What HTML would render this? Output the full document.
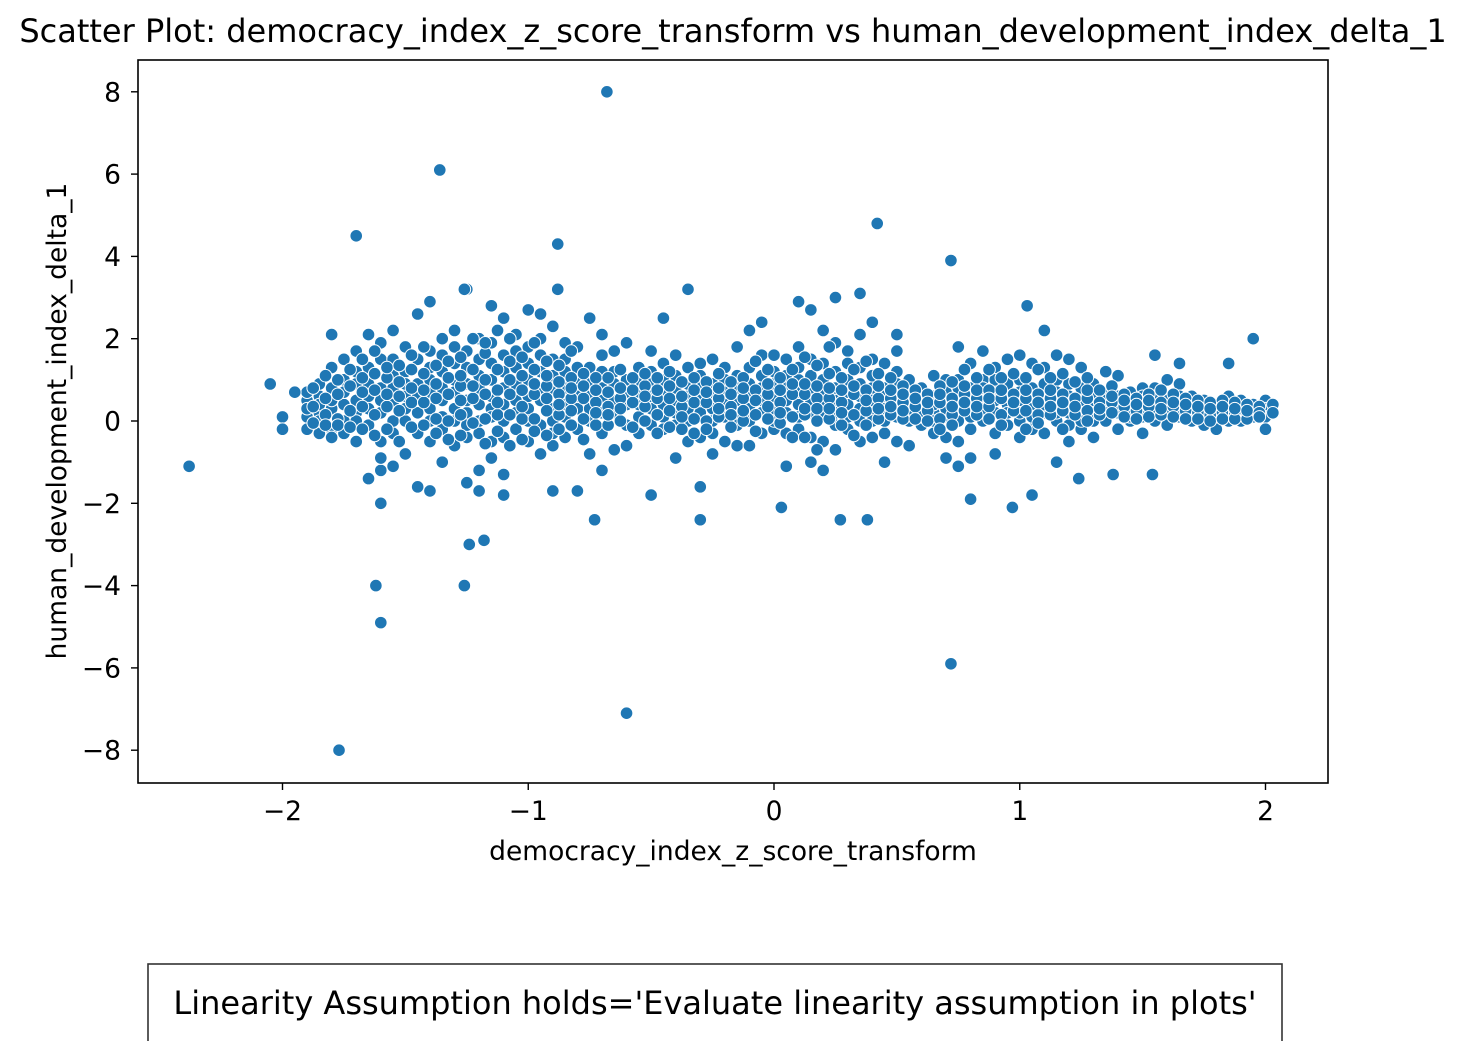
<!DOCTYPE html>
<html><head><meta charset="utf-8"><style>
body{margin:0;background:#fff;}
svg text{font-family:"DejaVu Sans","Liberation Sans",sans-serif;fill:#000;}
</style></head><body>
<svg width="1466" height="1041" viewBox="0 0 1466 1041" xmlns="http://www.w3.org/2000/svg">
<rect width="1466" height="1041" fill="#fff"/>
<text x="733" y="42" style="font-size:32px" text-anchor="middle">Scatter Plot: democracy_index_z_score_transform vs human_development_index_delta_1</text>
<g id="points"></g>
<rect x="138" y="60" width="1190" height="723" fill="none" stroke="#000" stroke-width="1.6"/>
<g id="xticks"></g>
<g id="yticks"></g>
<text x="733" y="860" style="font-size:26.5px" text-anchor="middle">democracy_index_z_score_transform</text>
<text transform="translate(66,421) rotate(-90)" style="font-size:26.5px" text-anchor="middle">human_development_index_delta_1</text>
<rect x="148" y="964" width="1134" height="90" fill="#fff" stroke="#333" stroke-width="1.6"/>
<text x="715" y="1014" style="font-size:32px" text-anchor="middle">Linearity Assumption holds='Evaluate linearity assumption in plots'</text>
</svg>
<script>
const xTicks=[-2,-1,0,1,2];
const yTicks=[-8,-6,-4,-2,0,2,4,6,8];
const colX=[-1.90,-1.85,-1.80,-1.75,-1.70,-1.65,-1.60,-1.55,-1.50,-1.45,-1.40,-1.35,-1.30,-1.25,-1.20,-1.15,-1.10,-1.05,-1.00,-0.95,-0.90,-0.85,-0.80,-0.75,-0.70,-0.65,-0.60,-0.55,-0.50,-0.45,-0.40,-0.35,-0.30,-0.25,-0.20,-0.15,-0.10,-0.05,0.00,0.05,0.10,0.15,0.20,0.25,0.30,0.35,0.40,0.45,0.50,0.55,0.60,0.65,0.70,0.75,0.80,0.85,0.90,0.95,1.00,1.05,1.10,1.15,1.20,1.25,1.30,1.35,1.40,1.45,1.50,1.55,1.60,1.65,1.70,1.75,1.80,1.85,1.90,1.95,2.00,2.03];
const colY=[[0.5,0.1,-0.2,0.3,0.7],[0.2,0.6,-0.3,0.9,0.0,0.4],[1.3,0.8,0.3,-0.2,2.1,0.5,-0.4],[1.0,0.4,0.0,1.5,-0.3,0.7],[1.7,0.9,0.2,-0.5,1.2,0.5,0.0],[2.1,1.3,0.6,-0.1,-1.4,0.9,0.3],[1.5,0.8,0.2,-0.5,-1.2,1.9,0.5,-0.9],[2.2,1.1,0.4,-0.3,0.8,-1.1,1.5,0.0],[1.8,0.6,0.0,-0.8,1.2,0.3,0.9],[1.5,0.9,0.2,-0.3,-1.6,0.6,2.6],[2.9,1.7,1.0,0.3,-0.5,-1.7,0.7,0.0,1.3],[2.0,1.2,0.5,-0.2,-1.0,0.8,0.1,1.6],[2.2,1.4,0.7,0.0,-0.6,1.0,0.3,1.8],[3.2,1.7,0.9,0.2,-0.4,-1.5,1.3,0.5,-0.1],[2.0,1.1,0.4,-0.3,-1.2,0.8,1.5,0.0,-1.7],[2.8,1.9,1.0,0.3,-0.5,-0.9,0.6,1.4,0.1],[2.5,1.6,0.8,0.0,-1.3,-1.8,0.4,1.2,-0.4],[2.1,1.3,0.5,-0.2,0.9,1.7,0.2],[2.7,1.8,1.0,0.3,-0.5,0.6,1.4,0.0],[2.6,2.0,1.2,0.5,-0.1,-0.8,0.8,1.6],[2.3,1.5,0.7,0.0,-0.6,-1.7,1.1,0.3,-0.3],[1.9,1.2,0.4,-0.4,0.8,0.1,1.5],[1.8,1.0,0.3,-0.2,-1.7,0.6,1.3],[2.5,1.3,0.6,0.0,-0.8,0.9,0.3],[2.1,1.2,0.5,-0.3,-1.2,0.8,0.2,1.6],[1.7,0.9,0.2,-0.7,0.5,1.2],[1.9,1.0,0.4,-0.1,-0.6,0.7],[1.3,0.7,0.1,-0.3,1.0,0.4],[1.7,0.9,0.3,0.6,-0.1,1.2],[2.5,1.4,0.7,0.1,-0.2,1.0,0.4],[1.1,0.5,-0.1,-0.9,0.8,0.2,1.6],[1.3,0.6,0.0,-0.5,0.9,0.3],[1.4,0.8,0.2,-0.4,1.1,0.5,-1.6],[1.5,0.9,0.3,-0.3,0.6,-0.8,0.0],[1.3,0.7,0.1,-0.5,1.0,0.4],[1.8,1.1,0.5,-0.1,0.8,0.2,-0.6],[2.2,1.3,0.6,0.0,-0.6,0.9,0.3],[2.4,1.6,0.8,0.2,-0.3,1.1,0.5],[1.6,0.9,0.3,-0.2,0.6,0.0,1.2],[1.5,0.8,0.2,-0.3,-1.1,0.5,1.1],[2.9,1.8,1.0,0.4,-0.2,0.7,0.1,1.3],[2.7,1.5,0.8,0.2,-0.4,1.1,0.5,-1.0],[2.2,1.4,0.7,0.1,-0.5,1.0,0.4,-1.2],[1.9,1.2,0.5,-0.1,-0.7,0.8,0.2],[1.7,1.0,0.4,-0.2,0.7,0.1,1.4],[2.1,1.3,0.6,0.0,-0.5,0.9,0.3],[2.4,1.5,0.8,0.2,-0.4,1.1,0.5,0.0],[1.4,0.8,0.3,-0.3,0.6,0.0,-1.0],[2.1,1.2,0.6,0.1,-0.5,0.9,0.3,1.7],[1.0,0.5,0.0,0.3,0.7,-0.6],[0.8,0.3,-0.1,0.5,0.1],[1.1,0.6,0.2,0.4,-0.3,0.0],[1.0,0.5,0.1,-0.4,0.7,0.3,-0.9],[1.8,1.0,0.5,0.0,-0.5,0.8,0.3,-1.1],[1.4,0.8,0.3,-0.2,0.6,0.1,-0.9],[1.7,1.0,0.5,0.0,0.8,0.3],[1.3,0.7,0.2,-0.3,0.5,1.0,-0.8],[1.5,0.9,0.4,-0.1,0.6,0.2],[1.6,1.0,0.5,0.0,-0.4,0.7,0.2],[1.4,0.8,0.3,-0.2,0.6,0.1],[2.2,1.3,0.7,0.2,-0.3,0.9,0.4],[1.6,1.0,0.5,0.0,0.7,0.2,-1.0],[1.5,0.9,0.4,-0.1,0.6,0.2,-0.5],[1.3,0.8,0.3,-0.2,0.5,0.0],[0.9,0.4,0.0,0.6,0.2,-0.4],[1.2,0.7,0.3,0.0,0.5],[1.1,0.6,0.2,-0.2,0.4],[0.7,0.3,0.0,0.5,0.1],[0.8,0.4,0.1,-0.3,0.6],[1.6,0.8,0.4,0.0,0.2,0.6],[1.0,0.5,0.2,-0.1,0.3],[1.4,0.9,0.4,0.1,0.6],[0.6,0.3,0.0,0.4],[0.5,0.2,-0.1,0.3],[0.4,0.1,-0.2,0.3],[0.6,0.3,0.0,0.2,1.4],[0.5,0.2,0.0,0.3],[0.4,0.2,0.1,2.0],[0.5,0.3,0.1,-0.2],[0.4,0.2]];
const colX2=[-1.875,-1.825,-1.775,-1.725,-1.675,-1.625,-1.575,-1.525,-1.475,-1.425,-1.375,-1.325,-1.275,-1.225,-1.175,-1.125,-1.075,-1.025,-0.975,-0.925,-0.875,-0.825,-0.775,-0.725,-0.675,-0.625,-0.575,-0.525,-0.475,-0.425,-0.375,-0.325,-0.275,-0.225,-0.175,-0.125,-0.075,-0.025,0.025,0.075,0.125,0.175,0.225,0.275,0.325,0.375,0.425,0.475,0.525,0.575,0.625,0.675,0.725,0.775,0.825,0.875,0.925,0.975,1.025,1.075,1.125,1.175,1.225,1.275,1.325,1.375,1.425,1.475,1.525,1.575,1.625,1.675,1.725,1.775,1.825,1.875,1.925,1.975];
const colY2=[[0.35,-0.05,0.8],[0.55,0.15,-0.1,1.1],[0.65,0.05,1.0,-0.1],[0.85,0.25,-0.15,1.25],[1.05,0.35,-0.2,0.7,1.5],[0.75,0.15,-0.35,1.15,1.7],[1.05,0.35,-0.2,0.65,1.3],[0.95,0.25,-0.5,0.6,1.35],[1.25,0.45,-0.15,0.8,1.6],[1.15,0.45,-0.1,0.75,1.8],[1.35,0.55,0.05,-0.3,0.9],[1.45,0.65,0.0,-0.45,1.05],[1.55,0.85,0.15,-0.35,0.5,1.1],[1.25,0.55,-0.05,0.85,2.0],[1.65,0.65,0.05,-0.55,1.0,1.9],[1.25,0.75,0.15,-0.25,0.45,2.2],[1.45,0.65,0.15,-0.6,1.0,2.0],[1.55,0.75,0.05,-0.45,1.1,0.35],[1.25,0.65,0.05,-0.25,0.9,1.9],[1.45,0.85,0.25,-0.35,0.55,1.1],[1.35,0.65,0.15,-0.2,0.95,0.4],[1.05,0.55,-0.1,0.8,0.25,1.7],[1.15,0.55,0.05,-0.45,0.85],[1.05,0.45,-0.1,0.75,0.2],[1.05,0.35,-0.1,0.7,0.15],[1.25,0.55,0.0,0.8,0.3],[1.05,0.45,-0.15,0.75],[0.85,0.35,0.0,0.6,1.15],[1.05,0.55,0.15,0.75,-0.3],[0.85,0.25,-0.15,0.55,1.2],[0.95,0.35,-0.2,0.6,0.1],[1.05,0.45,0.05,0.75,-0.3],[0.95,0.45,0.0,0.7,-0.2],[1.15,0.55,0.1,0.8,0.3],[0.95,0.35,-0.15,0.65,0.15],[1.05,0.55,0.0,0.8,0.25],[1.45,0.75,0.15,-0.25,0.5],[1.25,0.65,0.05,0.9,0.35],[1.05,0.45,-0.05,0.75,0.2],[1.25,0.65,0.1,0.9,-0.4],[1.55,0.65,0.15,-0.4,0.9,0.3],[1.35,0.55,0.0,0.85,0.3,-0.7],[1.15,0.55,0.05,0.8,0.3,1.8],[1.05,0.45,-0.1,0.75,0.2],[1.25,0.65,0.15,0.85,-0.35],[1.45,0.75,0.25,-0.1,0.5],[1.15,0.55,0.05,0.85,0.3],[1.05,0.55,0.15,0.75,0.35],[0.85,0.45,0.05,0.65,0.25],[0.75,0.35,0.05,0.55],[0.65,0.25,0.0,0.45],[0.85,0.45,0.05,0.65,-0.2],[0.95,0.55,0.15,0.35,-0.1],[1.25,0.65,0.25,0.45,0.85],[1.05,0.55,0.15,0.75,0.35],[1.25,0.75,0.35,0.55,0.05],[1.05,0.55,0.15,0.75,-0.1],[1.15,0.65,0.25,0.45],[1.05,0.55,0.25,0.75,-0.2],[1.25,0.65,0.15,0.45,-0.05],[1.05,0.55,0.15,0.75,0.35],[1.15,0.65,0.25,0.45,-0.2],[0.95,0.55,0.15,0.35],[1.05,0.55,0.25,0.75,0.0],[0.75,0.45,0.15,0.3],[0.85,0.45,0.2,0.6],[0.65,0.35,0.1,0.5],[0.55,0.25,0.05,0.4],[0.65,0.35,0.1,0.5],[0.75,0.45,0.15,0.3],[0.65,0.35,0.1,0.45],[0.55,0.25,0.05,0.4],[0.5,0.2,0.05,0.35],[0.45,0.15,0.0,0.3],[0.5,0.2,0.05,0.35],[0.45,0.2,0.05,0.3],[0.4,0.15,0.05,0.25],[0.35,0.2,0.1]];
const outX=[-2.38,-2.05,-2.0,-2.0,-1.95,-0.68,-1.36,-1.7,-0.88,0.42,0.72,-1.62,-1.6,-1.26,-1.24,-1.18,-1.77,-0.6,0.72,-0.73,-0.3,0.27,0.38,0.03,0.97,-1.6,0.8,1.05,-0.5,-0.35,0.35,0.25,1.03,-0.88,-1.26,1.54,1.38,1.24];
const outY=[-1.1,0.9,0.1,-0.2,0.7,8.0,6.1,4.5,4.3,4.8,3.9,-4.0,-4.9,-4.0,-3.0,-2.9,-8.0,-7.1,-5.9,-2.4,-2.4,-2.4,-2.4,-2.1,-2.1,-2.0,-1.9,-1.8,-1.8,3.2,3.1,3.0,2.8,3.2,3.2,-1.3,-1.3,-1.4];
const NS='http://www.w3.org/2000/svg';
const sx=v=>774+v*245.75;
const sy=v=>421-v*41.15;
const pts=document.getElementById('points');
function dot(x,y){
  const c=document.createElementNS(NS,'circle');
  c.setAttribute('cx',sx(x));c.setAttribute('cy',sy(y));c.setAttribute('r',6.3);
  c.setAttribute('fill','#1f77b4');c.setAttribute('stroke','#fff');c.setAttribute('stroke-width','1');
  
  
  pts.appendChild(c);
}
colX.forEach((x,i)=>colY[i].forEach(y=>dot(x,y)));
colX2.forEach((x,i)=>colY2[i].forEach(y=>dot(x,y)));
outX.forEach((x,i)=>dot(x,outY[i]));
const xg=document.getElementById('xticks');
xTicks.forEach(t=>{
  const l=document.createElementNS(NS,'line');
  l.setAttribute('x1',sx(t));l.setAttribute('x2',sx(t));l.setAttribute('y1',783);l.setAttribute('y2',790);l.setAttribute('stroke','#000');l.setAttribute('stroke-width','1.4');
  
  
  xg.appendChild(l);
  const tx=document.createElementNS(NS,'text');
  tx.setAttribute('x',sx(t));tx.setAttribute('y',820);tx.setAttribute('style','font-size:26.5px');tx.setAttribute('text-anchor','middle');
  tx.textContent=(t<0?'\u2212':'')+Math.abs(t);
  
  
  xg.appendChild(tx);
});
const yg=document.getElementById('yticks');
yTicks.forEach(t=>{
  const l=document.createElementNS(NS,'line');
  l.setAttribute('x1',131);l.setAttribute('x2',138);l.setAttribute('y1',sy(t));l.setAttribute('y2',sy(t));l.setAttribute('stroke','#000');l.setAttribute('stroke-width','1.4');
  
  
  yg.appendChild(l);
  const tx=document.createElementNS(NS,'text');
  tx.setAttribute('x',121);tx.setAttribute('y',sy(t)+9.5);tx.setAttribute('style','font-size:26.5px');tx.setAttribute('text-anchor','end');
  tx.textContent=(t<0?'\u2212':'')+Math.abs(t);
  
  
  yg.appendChild(tx);
});
</script>
</body></html>
